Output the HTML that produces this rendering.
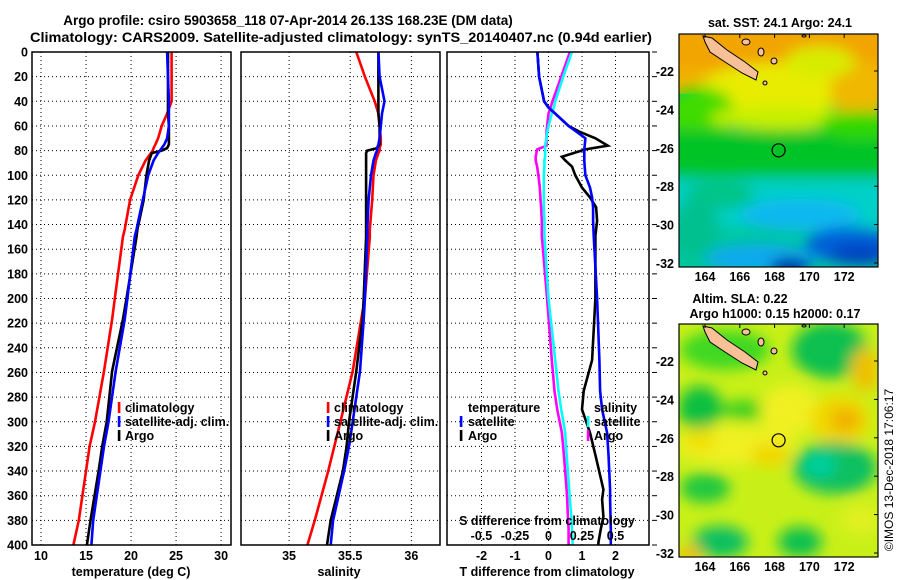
<!DOCTYPE html>
<html><head><meta charset="utf-8">
<style>
html,body{margin:0;padding:0;background:#fff;}
svg{display:block;font-family:"Liberation Sans",Arial,sans-serif;font-weight:bold;}
</style></head>
<body>
<svg id="fig" width="900" height="580" viewBox="0 0 900 580">
<defs>
  <filter id="blur6" x="-50%" y="-50%" width="200%" height="200%"><feGaussianBlur stdDeviation="7"/></filter>
  <clipPath id="clipMap1"><rect x="679" y="34" width="199" height="233"/></clipPath>
  <clipPath id="clipMap2"><rect x="679" y="324" width="199" height="233"/></clipPath>
</defs>
<text x="288" y="25" text-anchor="middle" font-size="13.5">Argo profile: csiro 5903658_118 07-Apr-2014 26.13S 168.23E (DM data)</text>
<text x="30" y="42" font-size="13.5" textLength="622" lengthAdjust="spacingAndGlyphs">Climatology: CARS2009. Satellite-adjusted climatology: synTS_20140407.nc (0.94d earlier)</text>

<g id="panels"></g>

<!-- SST map -->
<g>
  <g clip-path="url(#clipMap1)">
    <rect x="679" y="34" width="199" height="233" fill="#00c8a0"/>
    <rect x="679" y="34" width="199" height="60" fill="#f0b400"/>
    <g filter="url(#blur6)">
      <rect x="660" y="20" width="240" height="50" fill="#f2a400"/>
      <ellipse cx="780" cy="88" rx="80" ry="25" fill="#e8ec00"/>
      <ellipse cx="860" cy="90" rx="30" ry="30" fill="#f0b800"/>
      <ellipse cx="820" cy="62" rx="35" ry="16" fill="#d8ec00"/>
      <ellipse cx="700" cy="112" rx="35" ry="25" fill="#40dc00"/>
      <ellipse cx="780" cy="118" rx="70" ry="12" fill="#c8f000"/>
      <rect x="660" y="130" width="240" height="45" fill="#00c428"/>
      <ellipse cx="860" cy="125" rx="40" ry="14" fill="#30d800"/>
      <rect x="660" y="182" width="240" height="45" fill="#00d0c8"/>
      <ellipse cx="720" cy="195" rx="35" ry="14" fill="#00c488"/>
      <ellipse cx="800" cy="215" rx="60" ry="16" fill="#10b8f0"/>
      <ellipse cx="695" cy="230" rx="25" ry="30" fill="#00c090"/>
      <ellipse cx="760" cy="258" rx="55" ry="14" fill="#10a8f0"/>
      <ellipse cx="850" cy="245" rx="45" ry="18" fill="#0060d8"/>
      <ellipse cx="790" cy="268" rx="20" ry="10" fill="#0020a0"/>
      <ellipse cx="860" cy="255" rx="30" ry="10" fill="#0040c0"/>
    </g>
  </g>
  <rect x="679" y="34" width="199" height="233" fill="none" stroke="#000" stroke-width="1.2"/>
</g>
<!-- SLA map -->
<g>
  <g clip-path="url(#clipMap2)">
    <rect x="679" y="324" width="199" height="233" fill="#c8f018"/>
    <g filter="url(#blur6)">
      <ellipse cx="725" cy="350" rx="45" ry="20" fill="#40d820"/>
      <ellipse cx="830" cy="350" rx="38" ry="28" fill="#10c050"/>
      <ellipse cx="700" cy="408" rx="22" ry="22" fill="#10c040"/>
      <ellipse cx="745" cy="410" rx="25" ry="10" fill="#40d020"/>
      <ellipse cx="790" cy="410" rx="30" ry="25" fill="#f0f020"/>
      <ellipse cx="840" cy="420" rx="30" ry="25" fill="#f0d800"/>
      <ellipse cx="845" cy="420" rx="15" ry="12" fill="#f0b000"/>
      <ellipse cx="865" cy="370" rx="14" ry="22" fill="#f0c000"/>
      <ellipse cx="735" cy="445" rx="60" ry="20" fill="#f0f020"/>
      <ellipse cx="700" cy="440" rx="15" ry="12" fill="#f0e000"/>
      <ellipse cx="770" cy="455" rx="20" ry="12" fill="#f0d800"/>
      <ellipse cx="835" cy="468" rx="42" ry="26" fill="#10c060"/>
      <ellipse cx="820" cy="465" rx="16" ry="12" fill="#00d0a0"/>
      <ellipse cx="705" cy="488" rx="25" ry="15" fill="#20c840"/>
      <ellipse cx="720" cy="542" rx="28" ry="16" fill="#10c060"/>
      <ellipse cx="800" cy="542" rx="22" ry="15" fill="#10c050"/>
      <ellipse cx="860" cy="520" rx="20" ry="15" fill="#e0f020"/>
      <ellipse cx="690" cy="555" rx="12" ry="10" fill="#f0c000"/>
    </g>
  </g>
  <rect x="679" y="324" width="199" height="233" fill="none" stroke="#000" stroke-width="1.2"/>
</g>
<g id="maps-overlay"></g>
<text x="780" y="27" text-anchor="middle" font-size="12.5">sat. SST: 24.1 Argo: 24.1</text>
<text x="740" y="303" text-anchor="middle" font-size="12.5">Altim. SLA: 0.22</text>
<text x="775" y="318" text-anchor="middle" font-size="12.5">Argo h1000: 0.15 h2000: 0.17</text>
<text transform="translate(893,470) rotate(-90)" text-anchor="middle" font-size="12" font-weight="normal">©IMOS 13-Dec-2018 17:06:17</text>
</svg>
<script>
const depths = [0,20,40,50,60,70,75,78,80,82,88,100,120,144,150,200,217,259,300,320,340,380,400];
const tempClim = [24.5,24.5,24.5,24.0,23.4,23.0,22.7,22.5,22.4,22.2,21.6,20.8,19.9,19.3,19.1,18.2,17.9,17.0,16.0,15.4,15.0,14.2,13.6];
const tempSat  = [24.0,24.1,24.2,24.2,24.2,24.0,23.7,23.4,23.2,23.0,22.5,21.9,21.3,20.6,20.4,19.6,19.3,18.3,17.5,17.0,16.6,15.8,15.6];
const tempArgo = [24.1,24.1,24.1,24.1,24.2,24.2,24.2,24.0,23.4,22.3,22.0,21.7,21.4,20.7,20.6,19.5,19.1,17.9,17.3,16.8,16.4,15.5,15.1];
const salClim  = [35.55,35.62,35.70,35.73,35.74,35.75,35.75,35.74,35.74,35.73,35.71,35.69,35.68,35.66,35.66,35.62,35.59,35.52,35.42,35.37,35.32,35.21,35.15];
const salSat   = [35.73,35.74,35.78,35.76,35.75,35.74,35.73,35.72,35.72,35.71,35.69,35.67,35.65,35.64,35.64,35.62,35.61,35.58,35.52,35.49,35.45,35.36,35.34];
const salArgo  = [35.73,35.73,35.73,35.73,35.74,35.74,35.74,35.72,35.64,35.63,35.63,35.63,35.63,35.63,35.63,35.61,35.60,35.55,35.49,35.47,35.44,35.34,35.31];
const diffDepths = [0,20,40,45,50,60,65,70,76,79,85,88,93,100,110,118,126,137,149,200,250,275,290,309,327,355,363,377,387,398,400];
const tDiffSat  = [-0.33,-0.28,-0.13,0,0.2,0.6,0.85,1.1,1.08,1.07,1.07,1.07,1.08,1.1,1.24,1.3,1.33,1.33,1.35,1.45,1.52,1.54,1.6,1.75,1.79,1.84,1.84,1.85,1.86,1.86,1.86];
const tDiffArgo = [-0.33,-0.28,-0.13,0,0.2,0.6,0.95,1.4,1.77,1.1,0.4,0.5,0.7,0.8,1.0,1.24,1.42,1.45,1.4,1.4,1.3,1.05,1.0,1.24,1.4,1.64,1.6,1.64,1.56,1.49,1.49];
const sDiffSat  = [0.175,0.11,0.05,0.04,0.025,0,-0.01,-0.015,-0.025,-0.025,-0.025,-0.03,-0.03,-0.035,-0.035,-0.035,-0.035,-0.03,-0.03,0,0.05,0.075,0.095,0.125,0.135,0.155,0.16,0.17,0.175,0.18,0.18];
const sDiffArgo = [0.16,0.095,0.03,0.015,0,-0.01,-0.015,-0.015,-0.015,-0.085,-0.095,-0.095,-0.085,-0.075,-0.065,-0.06,-0.055,-0.05,-0.05,-0.01,0.025,0.045,0.065,0.1,0.115,0.135,0.14,0.145,0.15,0.15,0.15];
const depthTicks = [0,20,40,60,80,100,120,140,160,180,200,220,240,260,280,300,320,340,360,380,400];
const tempTicks = [10,15,20,25,30];
const salTicks = [35,35.5,36];
const tDiffTicks = [-2,-1,0,1,2];
const sDiffTicks = [-0.5,-0.25,0,0.25,0.5];
const lonTicks = [164,166,168,170,172];
const latTicks = [-22,-24,-26,-28,-30,-32];

const NS = "http://www.w3.org/2000/svg";
const G = document.getElementById('panels');
const M = document.getElementById('maps-overlay');
function mk(tag, attrs, parent){const e=document.createElementNS(NS,tag);for(const k in attrs)e.setAttribute(k,attrs[k]);(parent||G).appendChild(e);return e;}

const Y0=52, Y1=545;
const yScale = d => Y0 + (d/400)*(Y1-Y0);
function xs(x0,x1,v0,v1){return v=>x0+(v-v0)/(v1-v0)*(x1-x0);}
const P1={x0:32,x1:231}, P2={x0:241,x1:440}, P3={x0:447,x1:649};
const xT = xs(P1.x0,P1.x1,9,31.1);
const xS = xs(P2.x0,P2.x1,34.607,36.234);
const xTd = xs(P3.x0,P3.x1,-3.03,3.0);
const xSd = xs(P3.x0,P3.x1,-0.757,0.75);

function grid(P, ticks, sc, name){
  for(const t of ticks){
    const l=mk('line',{x1:sc(t),x2:sc(t),y1:Y0,y2:Y1,stroke:'#000','stroke-width':1,'stroke-dasharray':'1,3'});
    
    
  }
  for(const d of depthTicks.slice(1,-1)){
    const l=mk('line',{x1:P.x0,x2:P.x1,y1:yScale(d),y2:yScale(d),stroke:'#000','stroke-width':1,'stroke-dasharray':'1,3'});
    
    
  }
}
function frame(P,name){
  const r=mk('rect',{x:P.x0,y:Y0,width:P.x1-P.x0,height:Y1-Y0,fill:'none',stroke:'#000','stroke-width':1.5});
  
  
}
function line(xsArr, ds, sc, color, name){
  const pts = xsArr.map((v,i)=>sc(v).toFixed(1)+','+yScale(ds[i]).toFixed(1)).join(' ');
  const p=mk('polyline',{points:pts,fill:'none',stroke:color,'stroke-width':2.6,'stroke-linejoin':'miter'});
  
  
}
function txt(x,y,s,opts,name,parent){
  const t=mk('text',Object.assign({x:x,y:y,'font-size':12.5},opts||{}),parent);
  t.textContent=s;
  
  
  return t;
}
function marker(x,y,color,name){
  const r=mk('rect',{x:x-1.2,y:y-9,width:2.6,height:11,fill:color});
  
  
}

// Panel 1: temperature
grid(P1,tempTicks,xT,'temperature');
line(tempClim,depths,xT,'#f00','temperature-climatology-line');
line(tempArgo,depths,xT,'#000','temperature-argo-line');
line(tempSat,depths,xT,'#00f','temperature-satellite-line');
frame(P1,'temperature-panel');
for(const d of depthTicks){ txt(28,yScale(d)+4.5,String(d),{'text-anchor':'end'},'depth-tick-label'); }
for(const t of tempTicks){ txt(xT(t),560,String(t),{'text-anchor':'middle'},'temperature-tick-label'); }
txt(131,576,'temperature (deg C)',{'text-anchor':'middle'},'temperature-axis-title');
marker(119,411,'#f00','legend-marker-climatology'); txt(125,412,'climatology',{},'legend-climatology');
marker(119,425,'#00f','legend-marker-satellite'); txt(125,426,'satellite-adj. clim.',{},'legend-satellite-adj');
marker(119,439,'#000','legend-marker-argo'); txt(125,440,'Argo',{},'legend-argo');

// Panel 2: salinity
grid(P2,salTicks,xS,'salinity');
line(salClim,depths,xS,'#f00','salinity-climatology-line');
line(salArgo,depths,xS,'#000','salinity-argo-line');
line(salSat,depths,xS,'#00f','salinity-satellite-line');
frame(P2,'salinity-panel');
for(const t of salTicks){ txt(xS(t),560,String(t),{'text-anchor':'middle'},'salinity-tick-label'); }
txt(339,576,'salinity',{'text-anchor':'middle'},'salinity-axis-title');
marker(328,411,'#f00','legend2-marker-climatology'); txt(334,412,'climatology',{},'legend2-climatology');
marker(328,425,'#00f','legend2-marker-satellite'); txt(334,426,'satellite-adj. clim.',{},'legend2-satellite-adj');
marker(328,439,'#000','legend2-marker-argo'); txt(334,440,'Argo',{},'legend2-argo');

// Panel 3: differences
grid(P3,tDiffTicks,xTd,'difference');
line(sDiffArgo,diffDepths,xSd,'#f0f','salinity-diff-argo-line');
line(sDiffSat,diffDepths,xSd,'#0ff','salinity-diff-satellite-line');
line(tDiffArgo,diffDepths,xTd,'#000','temperature-diff-argo-line');
line(tDiffSat,diffDepths,xTd,'#00f','temperature-diff-satellite-line');
frame(P3,'difference-panel');
for(const d of depthTicks){
  const l=mk('line',{x1:P3.x1+3,x2:P3.x1+8,y1:yScale(d),y2:yScale(d),stroke:'#000','stroke-width':1});
  
  
}
for(const t of tDiffTicks){ txt(xTd(t),560,String(t),{'text-anchor':'middle'},'temperature-diff-tick-label'); }
txt(547,576,'T difference from climatology',{'text-anchor':'middle'},'temperature-diff-axis-title');
txt(547,525,'S difference from climatology',{'text-anchor':'middle'},'salinity-diff-axis-title');
for(const t of sDiffTicks){ txt(xSd(t),540,String(t),{'text-anchor':'middle'},'salinity-diff-tick-label'); }
txt(468,412,'temperature',{},'legend3-temperature-header');
marker(461,425,'#00f','legend3-marker-temp-satellite'); txt(468,426,'satellite',{},'legend3-temp-satellite');
marker(461,439,'#000','legend3-marker-temp-argo'); txt(468,440,'Argo',{},'legend3-temp-argo');
txt(594,412,'salinity',{},'legend3-salinity-header');
marker(588,425,'#0ff','legend3-marker-sal-satellite'); txt(594,426,'satellite',{},'legend3-sal-satellite');
marker(588,439,'#f0f','legend3-marker-sal-argo'); txt(594,440,'Argo',{},'legend3-sal-argo');

// Maps overlay: island, circle, ticks
const lonX = lon => 705 + (lon-164)*17.4;
function mapOverlay(off, nm){
  const latY = lat => off + 71 + (-22-lat)*19.2;
  const isl = [[703,36],[712,38],[727,50],[745,62],[758,72],[756,80],[742,73],[725,62],[710,52],[705,42]];
  const p=mk('polygon',{points:isl.map(q=>q[0]+','+(q[1]+off)).join(' '),fill:'#f8c096',stroke:'#000','stroke-width':1},M);
  
  
  for(const q of [[746,42,4,3],[761,52,3,4],[774,61,3,3],[765,83,2,2],[804,36,2,1]]){
    const e=mk('ellipse',{cx:q[0],cy:q[1]+off,rx:q[2],ry:q[3],fill:'#f8c096',stroke:'#000','stroke-width':1},M);
    
    
  }
  const c=mk('circle',{cx:lonX(168.23),cy:latY(-26.13),r:6.5,fill:'none',stroke:'#000','stroke-width':1.2},M);
  
  
  for(const t of latTicks){
    txt(674,latY(t)+5,String(t),{'text-anchor':'end'},nm+'-lat-label',M);
    const tk=mk('line',{x1:874,x2:878,y1:latY(t),y2:latY(t),stroke:'#000'},M);
    
    
  }
  for(const t of lonTicks){
    txt(lonX(t),off+281,String(t),{'text-anchor':'middle'},nm+'-lon-label',M);
    const tk=mk('line',{x1:lonX(t),x2:lonX(t),y1:off+34,y2:off+38,stroke:'#000'},M);
    
    
  }
}
mapOverlay(0,'sst-map');
mapOverlay(290,'sla-map');
</script>
</body></html>
